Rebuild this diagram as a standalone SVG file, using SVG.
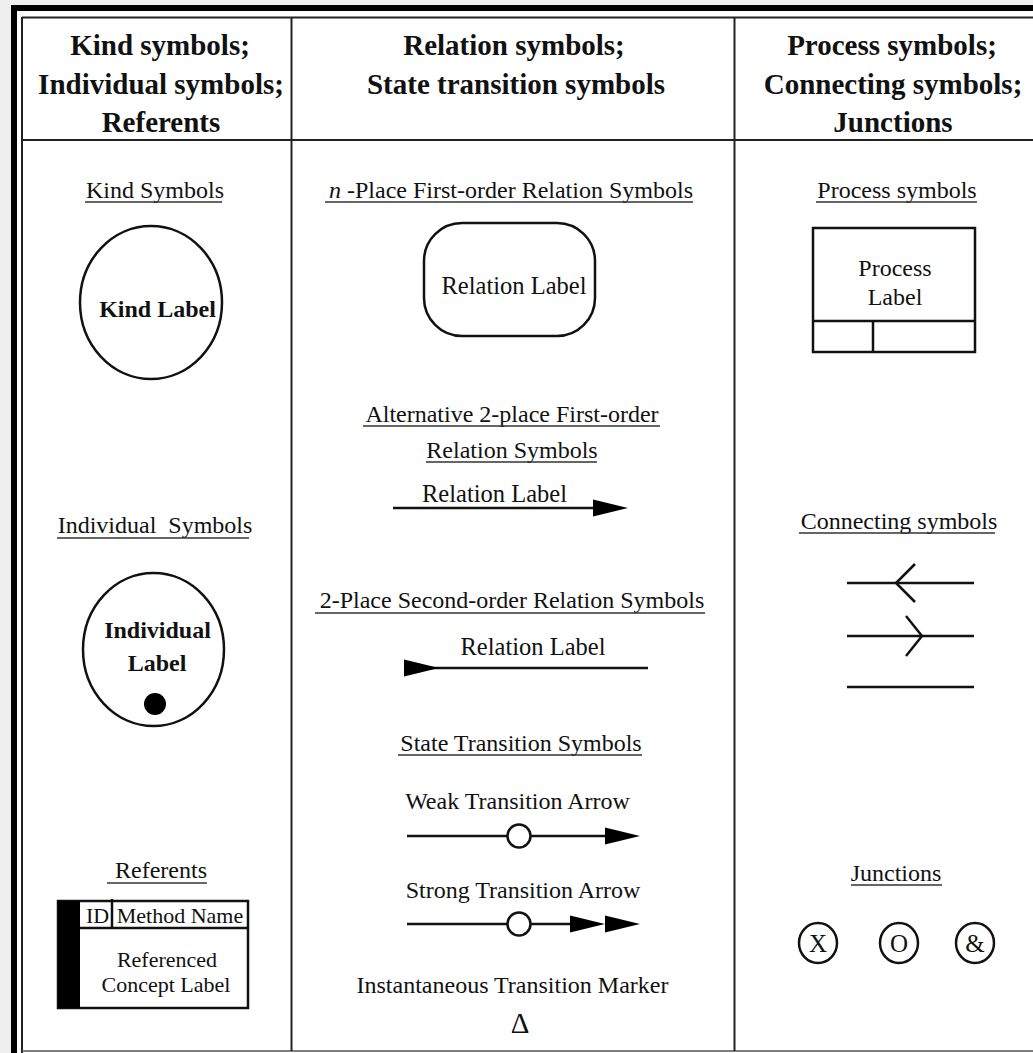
<svg xmlns="http://www.w3.org/2000/svg" width="1033" height="1053" viewBox="0 0 1033 1053">
<style>
text{font-family:"Liberation Serif","Times New Roman",serif;fill:#111}
.h{font-size:29px;font-weight:bold;text-anchor:middle}
.t{font-size:24px;text-anchor:middle}
.rl{font-size:24.5px;text-anchor:middle}
.b{font-size:24px;font-weight:bold;text-anchor:middle}
.s{font-size:22px;text-anchor:middle}
.u{stroke:#333;stroke-width:1.5}
.sh{fill:none;stroke:#111;stroke-width:2.5}
.ln{stroke:#111;stroke-width:2.5}
.grid{stroke:#222;stroke-width:2}
</style>
<defs>
<path id="ah" d="M-35,-8.5 L0,0 L-35,8.5 Z" fill="#000"/>
</defs>

<g id="frame">
<rect width="1033" height="1053" fill="#efefef"/>
<rect x="11" y="5" width="1022" height="1048" fill="#fff"/>
<line x1="11" y1="8" x2="1033" y2="8" stroke="#000" stroke-width="6"/>
<line x1="14" y1="5" x2="14" y2="1053" stroke="#000" stroke-width="6"/>
<line x1="22" y1="17.5" x2="1033" y2="17.5" class="grid" stroke-width="1.5"/>
<line x1="22" y1="17" x2="22" y2="1053" class="grid" stroke-width="1.5"/>
<line x1="22" y1="1051" x2="1033" y2="1051" stroke="#555" stroke-width="1.5"/>
<line x1="291.5" y1="17" x2="291.5" y2="1051" class="grid"/>
<line x1="734.5" y1="17" x2="734.5" y2="1051" class="grid"/>
<line x1="22" y1="140" x2="1033" y2="140" class="grid" stroke-width="1.5"/>
</g>

<g id="headers">
<text class="h" x="160" y="55">Kind symbols;</text>
<text class="h" x="161" y="94">Individual symbols;</text>
<text class="h" x="161" y="132">Referents</text>
<text class="h" x="514" y="55">Relation symbols;</text>
<text class="h" x="516" y="94">State transition symbols</text>
<text class="h" x="892" y="55">Process symbols;</text>
<text class="h" x="893" y="94">Connecting symbols;</text>
<text class="h" x="893" y="132">Junctions</text>
</g>

<g id="section-titles">
<text class="t" x="155" y="198">Kind Symbols</text>
<line class="u" x1="85" y1="202" x2="222" y2="202"/>
<text class="t" x="511" y="198"><tspan font-style="italic">n</tspan> -Place First-order Relation Symbols</text>
<line class="u" x1="325" y1="202" x2="693" y2="202"/>
<text class="t" x="897" y="198">Process symbols</text>
<line class="u" x1="816" y1="202" x2="977" y2="202"/>
<text class="t" x="512" y="422">Alternative 2-place First-order</text>
<line class="u" x1="363" y1="426" x2="660" y2="426"/>
<text class="t" x="512" y="458">Relation Symbols</text>
<line class="u" x1="426" y1="462" x2="597" y2="462"/>
<text class="t" x="155" y="533">Individual&#160; Symbols</text>
<line class="u" x1="57" y1="538" x2="249" y2="538"/>
<text class="t" x="899" y="529">Connecting symbols</text>
<line class="u" x1="799" y1="533" x2="995" y2="533"/>
<text class="t" x="512" y="608">2-Place Second-order Relation Symbols</text>
<line class="u" x1="315" y1="613" x2="705" y2="613"/>
<text class="t" x="521" y="751">State Transition Symbols</text>
<line class="u" x1="398" y1="755" x2="642" y2="755"/>
<text class="t" x="161" y="878">Referents</text>
<line class="u" x1="107" y1="883" x2="207" y2="883"/>
<text class="t" x="896" y="881">Junctions</text>
<line class="u" x1="851" y1="885" x2="942" y2="885"/>
</g>

<g id="kind-symbol">
<ellipse class="sh" cx="151" cy="302.5" rx="71" ry="76.5"/>
<text class="b" x="157.5" y="317">Kind Label</text>
</g>

<g id="individual-symbol">
<ellipse class="sh" cx="153.5" cy="649.5" rx="70.5" ry="76.5"/>
<text class="b" x="157.5" y="638">Individual</text>
<text class="b" x="157" y="671">Label</text>
<circle cx="155" cy="704" r="11" fill="#000"/>
</g>

<g id="referent">
<rect x="58" y="901" width="190" height="107" fill="none" stroke="#111" stroke-width="2.5"/>
<rect x="58" y="901" width="22" height="107" fill="#000"/>
<line x1="80" y1="928" x2="248" y2="928" stroke="#111" stroke-width="2.5"/>
<line x1="112" y1="899" x2="112" y2="928" stroke="#111" stroke-width="2.5"/>
<text class="s" x="97.5" y="923">ID</text>
<text class="s" x="180" y="923">Method Name</text>
<text class="s" x="167" y="967">Referenced</text>
<text class="s" x="166" y="992">Concept Label</text>
</g>

<g id="relation-n-place">
<rect class="sh" x="424" y="223" width="171" height="113" rx="38" ry="38"/>
<text class="rl" x="514" y="294">Relation Label</text>
</g>

<g id="process-symbol">
<rect x="813" y="228" width="162" height="124" fill="none" stroke="#111" stroke-width="2.5"/>
<line x1="813" y1="321" x2="975" y2="321" stroke="#111" stroke-width="2.5"/>
<line x1="873" y1="321" x2="873" y2="352" stroke="#111" stroke-width="2.5"/>
<text class="t" x="895" y="276">Process</text>
<text class="t" x="895" y="305">Label</text>
</g>

<g id="connecting-symbols">
<line class="ln" x1="847" y1="583" x2="974" y2="583"/>
<polyline class="sh" points="915,564 896,583 915,602"/>
<line class="ln" x1="847" y1="636" x2="974" y2="636"/>
<polyline class="sh" points="906,616 922,636 906,656"/>
<line class="ln" x1="847" y1="687" x2="974" y2="687"/>
</g>

<g id="junction-x">
<ellipse class="sh" cx="818" cy="943" rx="19" ry="20"/>
<text x="818" y="952" font-size="25" text-anchor="middle">X</text>
</g>
<g id="junction-o">
<ellipse class="sh" cx="899" cy="943" rx="19" ry="20"/>
<text x="899" y="952" font-size="25" text-anchor="middle">O</text>
</g>
<g id="junction-and">
<ellipse class="sh" cx="975" cy="943" rx="19" ry="20"/>
<text x="975" y="952" font-size="25" text-anchor="middle">&amp;</text>
</g>

<g id="relation-alt-2place">
<text class="rl" x="494.5" y="502">Relation Label</text>
</g>
<g id="relation-2place-second">
<text class="rl" x="533" y="655">Relation Label</text>
</g>
<g id="weak-transition">
<text class="t" x="517.5" y="809">Weak Transition Arrow</text>
</g>
<g id="strong-transition">
<text class="t" x="523" y="898">Strong Transition Arrow</text>
</g>
<g id="instantaneous-marker">
<text class="t" x="512.5" y="993">Instantaneous Transition Marker</text>
<text x="520" y="1033" font-size="29" text-anchor="middle">Δ</text>
</g>

<g id="connectors">
<line class="ln" x1="393" y1="508" x2="600" y2="508"/>
<use href="#ah" x="628" y="508"/>
<line class="ln" x1="420" y1="668" x2="648" y2="668"/>
<use href="#ah" x="439" y="668"/>
<line class="ln" x1="407" y1="836" x2="612" y2="836"/>
<circle cx="519" cy="836" r="11.5" fill="#fff" stroke="#111" stroke-width="2.5"/>
<use href="#ah" x="640" y="836"/>
<line class="ln" x1="407" y1="924" x2="580" y2="924"/>
<circle cx="519" cy="924" r="11.5" fill="#fff" stroke="#111" stroke-width="2.5"/>
<use href="#ah" x="605" y="924"/>
<use href="#ah" x="640" y="924"/>
</g>
</svg>
